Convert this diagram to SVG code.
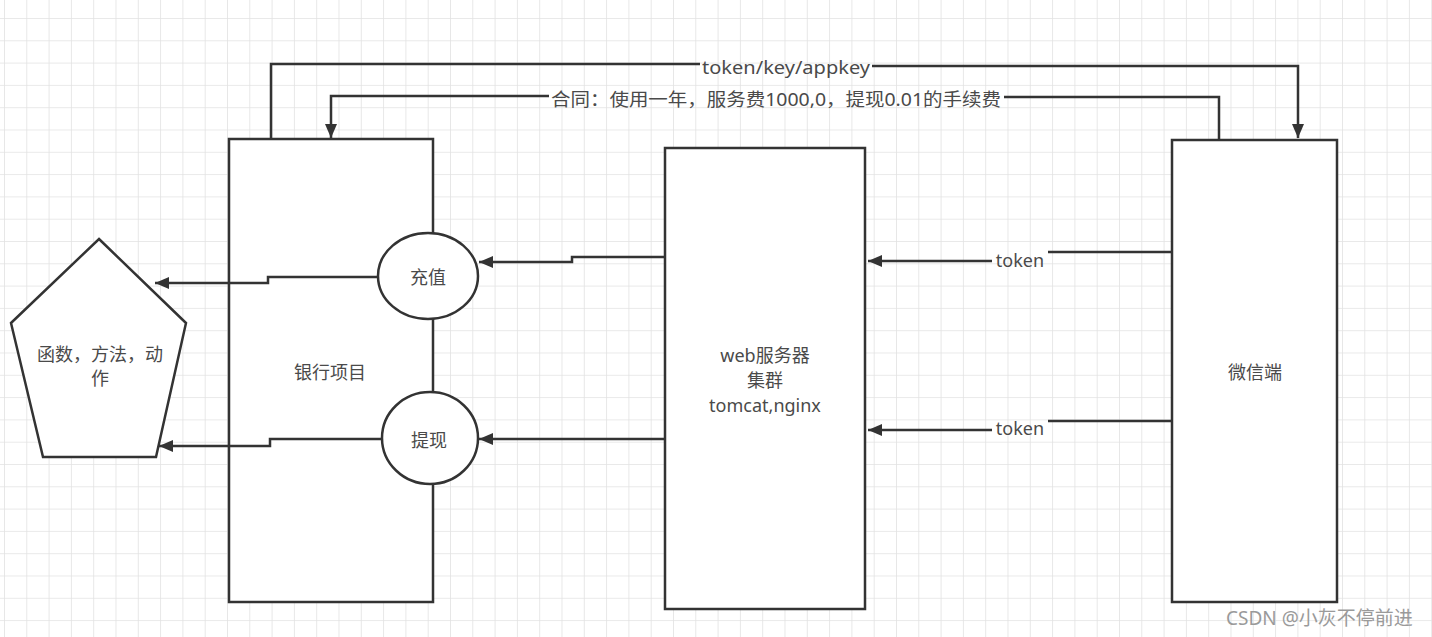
<svg xmlns="http://www.w3.org/2000/svg" width="1432" height="637" viewBox="0 0 1432 637">
  <defs>
    <pattern id="grid" patternUnits="userSpaceOnUse" x="4" y="18" width="22.3" height="22.3">
      <path d="M0 0H22.3M0 0V22.3" fill="none" stroke="#e2e2e2" stroke-width="1.6"/>
    </pattern>
    <marker id="arrow" markerUnits="userSpaceOnUse" markerWidth="16" markerHeight="14" refX="14" refY="6" orient="auto">
      <path d="M0,0 L14,6 L0,12 Z" fill="#333"/>
    </marker>
    <style>
      .shape { fill: #fff; stroke: #333; stroke-width: 2.5; }
      .edge { fill: none; stroke: #333; stroke-width: 2.5; }
      .arr { marker-end: url(#arrow); }
      text { font-family: "Noto Sans", "Noto Sans CJK SC", sans-serif; fill: #4a4a4a; font-size: 18px; text-anchor: middle; dominant-baseline: central; }
      .wm { fill: #9a9a9a; font-size: 19px; text-anchor: start; }
    </style>
  </defs>
  <rect width="1432" height="637" fill="#fff"/>
  <rect width="1432" height="637" fill="url(#grid)"/>

  <g id="bank">
    <rect class="shape" x="229" y="139" width="204" height="463"/>
    <text x="330" y="372">银行项目</text>
  </g>
  <g id="recharge">
    <ellipse class="shape" cx="428" cy="276" rx="50" ry="43"/>
    <text x="428" y="277">充值</text>
  </g>
  <g id="withdraw">
    <ellipse class="shape" cx="430" cy="438" rx="48" ry="46"/>
    <text x="429" y="440">提现</text>
  </g>
  <g id="functions">
    <polygon class="shape" points="99,239 186,323 156,457 43,457 11,323"/>
    <text x="100" y="354">函数，方法，动</text>
    <text x="100" y="378">作</text>
  </g>
  <g id="webserver">
    <rect class="shape" x="665" y="148" width="200" height="461"/>
    <text x="765" y="355">web服务器</text>
    <text x="765" y="380">集群</text>
    <text x="765" y="405">tomcat,nginx</text>
  </g>
  <g id="wechat">
    <rect class="shape" x="1172" y="140" width="165" height="462"/>
    <text x="1255" y="372">微信端</text>
  </g>

  <g id="connectors">
    <path class="edge" d="M271,139 V64 H700"/>
    <path class="edge arr" d="M872,66 H1298 V138"/>
    <path class="edge" d="M1219,140 V97 H1004"/>
    <path class="edge arr" d="M549,96 H331 V138"/>
    <path class="edge arr" d="M378,277 H268 V283 H155"/>
    <path class="edge arr" d="M381,439 H270 V446 H159"/>
    <path class="edge arr" d="M665,257 H572 V262 H479"/>
    <path class="edge arr" d="M665,439 H479"/>
    <path class="edge" d="M1172,252 H1048"/>
    <path class="edge arr" d="M992,261 H868"/>
    <path class="edge" d="M1172,421 H1048"/>
    <path class="edge arr" d="M992,430 H868"/>
    <text x="786" y="67" textLength="168" lengthAdjust="spacingAndGlyphs">token/key/appkey</text>
    <text x="776" y="99" textLength="450" lengthAdjust="spacingAndGlyphs">合同：使用一年，服务费1000,0，提现0.01的手续费</text>
    <text x="1020" y="260">token</text>
    <text x="1020" y="428">token</text>
  </g>
  <text class="wm" x="1226" y="618">CSDN @小灰不停前进</text>
</svg>
